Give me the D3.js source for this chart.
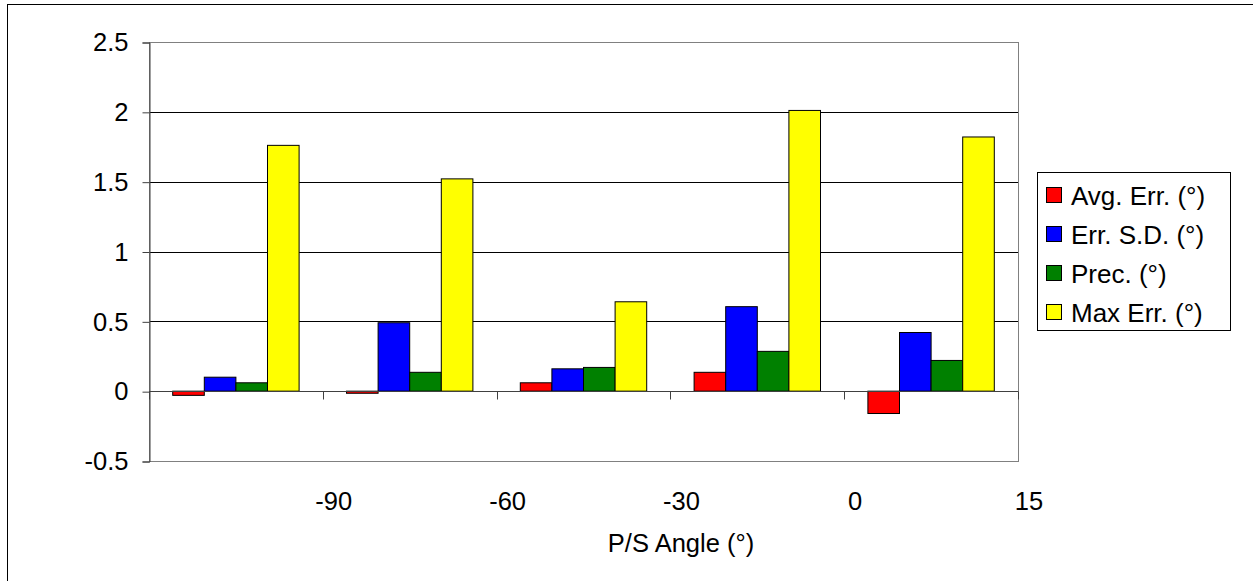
<!DOCTYPE html>
<html>
<head>
<meta charset="utf-8">
<script src="https://cdn.jsdelivr.net/npm/d3@7"></script>
<style>
  html, body { margin: 0; padding: 0; background: #fff; }
  svg { display: block; }
  text { font-family: "Liberation Sans", Arial, sans-serif; fill: #000; }
</style>
</head>
<body>
<script>
// Error statistics per P/S angle setting
const categories = ["-90", "-60", "-30", "0", "15"];
const seriesNames = ["Avg. Err. (°)", "Err. S.D. (°)", "Prec. (°)", "Max Err. (°)"];
const seriesColors = ["#FF0000", "#0000FF", "#008000", "#FFFF00"];
const avgErr = [-0.03, -0.015, 0.06, 0.135, -0.16];
const errSD = [0.10, 0.49, 0.16, 0.605, 0.42];
const prec = [0.06, 0.135, 0.17, 0.285, 0.22];
const maxErr = [1.76, 1.52, 0.64, 2.01, 1.82];
const yTicks = [-0.5, 0, 0.5, 1, 1.5, 2, 2.5];
const xTitle = "P/S Angle (°)";

const seriesValues = [avgErr, errSD, prec, maxErr];

const W = 1253, H = 581;
const plot = { left: 149, right: 1018, top: 42, bottom: 461 };
const fontSize = 25.5;

const svg = d3.select("body").append("svg")
  .attr("width", W).attr("height", H);

// chart area frame
svg.append("rect")
  .attr("x", 7.5).attr("y", 4.5)
  .attr("width", W + 20).attr("height", H + 20)
  .attr("fill", "#fff").attr("stroke", "#000").attr("stroke-width", 1);

const y = d3.scaleLinear().domain([-0.5, 2.5]).range([plot.bottom, plot.top]);
const x0 = d3.scaleBand().domain(categories).range([plot.left, plot.right]).padding(0);
const bw = x0.bandwidth();
const barW = bw / 5.5; // 150% gap between clusters
const x1 = d3.scaleBand().domain(d3.range(seriesNames.length))
  .range([0.75 * barW, bw - 0.75 * barW]).padding(0);

// gridlines
svg.append("g").selectAll("line")
  .data(yTicks.filter(t => t > -0.5 && t < 2.5))
  .join("line")
  .attr("x1", plot.left).attr("x2", plot.right)
  .attr("y1", d => Math.round(y(d)) + 0.5).attr("y2", d => Math.round(y(d)) + 0.5)
  .attr("stroke", "#000").attr("stroke-width", 1);

// plot area border
svg.append("rect")
  .attr("x", plot.left + 0.5).attr("y", plot.top + 0.5)
  .attr("width", plot.right - plot.left).attr("height", plot.bottom - plot.top)
  .attr("fill", "none").attr("stroke", "#808080").attr("stroke-width", 1);

// value axis
const yAxis = d3.axisLeft(y).tickValues(yTicks).tickSize(7).tickPadding(14)
  .tickFormat(d => String(d));
const gy = svg.append("g").attr("transform", `translate(${plot.left + 0.5},0.5)`).call(yAxis);
gy.select(".domain").attr("stroke", "#404040");
gy.selectAll(".tick line").attr("stroke", "#404040");
gy.selectAll(".tick text").attr("font-size", fontSize)
  .attr("font-family", "Liberation Sans, Arial, sans-serif").attr("fill", "#000");

// bars
const groups = svg.append("g").selectAll("g")
  .data(categories)
  .join("g")
  .attr("transform", d => `translate(${x0(d)},0)`);

groups.selectAll("rect")
  .data((c, ci) => seriesValues.map((vals, si) => ({ si, v: vals[ci] })))
  .join("rect")
  .attr("x", d => x1(d.si))
  .attr("width", x1.bandwidth())
  .attr("y", d => y(Math.max(0, d.v)))
  .attr("height", d => Math.abs(y(d.v) - y(0)))
  .attr("fill", d => seriesColors[d.si])
  .attr("stroke", "#000").attr("stroke-width", 1);

// category axis along zero
const zeroY = Math.round(y(0)) + 0.5;
svg.append("line")
  .attr("x1", plot.left).attr("x2", plot.right)
  .attr("y1", zeroY).attr("y2", zeroY)
  .attr("stroke", "#404040").attr("stroke-width", 1);

const boundaries = [plot.left].concat(categories.map(c => x0(c) + bw));
svg.append("g").selectAll("line")
  .data(boundaries)
  .join("line")
  .attr("x1", d => Math.round(d) + 0.5).attr("x2", d => Math.round(d) + 0.5)
  .attr("y1", zeroY).attr("y2", zeroY + 8)
  .attr("stroke", "#404040").attr("stroke-width", 1);

// category labels sit at the right edge of each cluster
svg.append("g").selectAll("text")
  .data(categories)
  .join("text")
  .attr("x", d => x0(d) + bw + 11)
  .attr("y", 510)
  .attr("text-anchor", "middle")
  .attr("font-size", fontSize)
  .text(d => d);

// axis title
svg.append("text")
  .attr("x", 681).attr("y", 552)
  .attr("text-anchor", "middle")
  .attr("font-size", fontSize)
  .text(xTitle);

// legend
const legend = svg.append("g");
legend.append("rect")
  .attr("x", 1037.5).attr("y", 172.5)
  .attr("width", 193).attr("height", 158)
  .attr("fill", "#fff").attr("stroke", "#000").attr("stroke-width", 1);

const items = legend.selectAll("g.item")
  .data(seriesNames)
  .join("g").attr("class", "item")
  .attr("transform", (d, i) => `translate(1046,${195 + i * 39})`);

items.append("rect")
  .attr("x", 0.5).attr("y", -7.5)
  .attr("width", 15).attr("height", 15)
  .attr("fill", (d, i) => seriesColors[i])
  .attr("stroke", "#000").attr("stroke-width", 1);

items.append("text")
  .attr("x", 25).attr("y", 10)
  .attr("font-size", 26)
  .text(d => d);
</script>
</body>
</html>
